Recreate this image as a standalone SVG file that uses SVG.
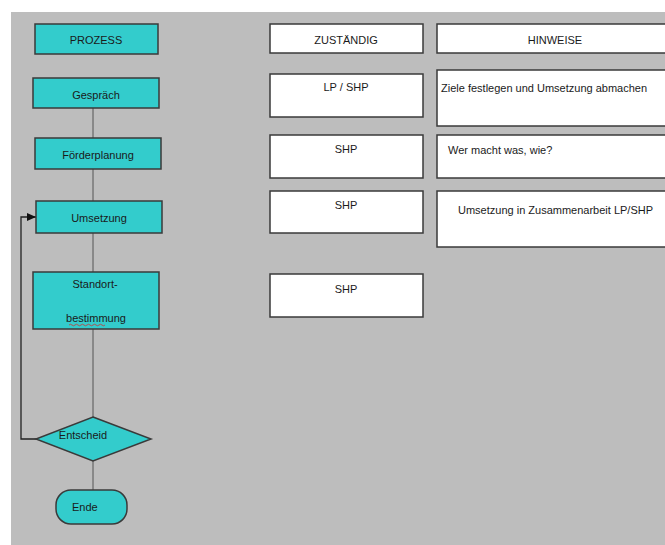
<svg xmlns="http://www.w3.org/2000/svg" width="665" height="545" viewBox="0 0 665 545">
<defs>
<style>
.bg{fill:#bdbdbd}
.proc{fill:#33cccc;stroke:#3a3a3a;stroke-width:1.5}
.box{fill:#ffffff;stroke:#3a3a3a;stroke-width:1.5}
.t{font-family:"Liberation Sans",Arial,sans-serif;font-size:11px;fill:#1a1a1a}
.tc{text-anchor:middle}
.con{stroke:#555555;stroke-width:1;fill:none}
.loop{stroke:#222222;stroke-width:1.3;fill:none}
</style>
<marker id="arr" markerWidth="10" markerHeight="10" refX="9" refY="5" orient="auto" markerUnits="userSpaceOnUse">
<path d="M0,1 L9,5 L0,9 Z" fill="#111111"/>
</marker>
</defs>
<rect x="0" y="0" width="665" height="545" fill="#ffffff"/>
<rect class="bg" x="11" y="12" width="654" height="533"/>

<g id="connectors">
<line class="con" x1="93" y1="108" x2="93" y2="138"/>
<line class="con" x1="93" y1="169" x2="93" y2="201"/>
<line class="con" x1="93" y1="233" x2="93" y2="272"/>
<line class="con" x1="93" y1="329" x2="93" y2="417"/>
<line class="con" x1="93" y1="461" x2="93" y2="490"/>
<polyline class="loop" points="37,439 21,439 21,217 36,217" marker-end="url(#arr)"/>
</g>

<g id="prozess"><rect class="proc" x="35" y="24" width="123" height="30"/><text class="t tc" x="96" y="44" font-size="12">PROZESS</text></g>
<g id="gespraech"><rect class="proc" x="33" y="78" width="126" height="30"/><text class="t tc" x="96" y="99">Gespräch</text></g>
<g id="foerderplanung"><rect class="proc" x="35" y="138" width="126" height="31"/><text class="t tc" x="98" y="159">Förderplanung</text></g>
<g id="umsetzung"><rect class="proc" x="36" y="201" width="126" height="32"/><text class="t tc" x="99" y="222">Umsetzung</text></g>
<g id="standort"><rect class="proc" x="33" y="272" width="126" height="57"/><text class="t tc" x="95" y="288">Standort-</text><text class="t tc" x="96" y="322">bestimmung</text>
<path d="M69,325 q1.5,-1.5 3,0 t3,0 t3,0 t3,0 t3,0 t3,0 t3,0 t3,0 t3,0 t3,0 t3,0 t3,0" stroke="#cc3333" stroke-width="0.8" fill="none"/></g>
<g id="entscheid"><polygon class="proc" points="93,417 151,439 93,461 36,439"/><text class="t tc" x="83" y="439" font-size="9">Entscheid</text></g>
<g id="ende"><rect class="proc" x="56" y="490" width="71" height="34" rx="15" ry="15"/><text class="t" x="72" y="511">Ende</text></g>

<g id="zustaendig"><rect class="box" x="270" y="24" width="153" height="29"/><text class="t tc" x="346" y="44" font-size="12">ZUSTÄNDIG</text></g>
<g id="hinweise"><rect class="box" x="437" y="24" width="236" height="29"/><text class="t tc" x="555" y="44" font-size="12">HINWEISE</text></g>
<g id="z1"><rect class="box" x="270" y="74" width="153" height="43"/><text class="t tc" x="346" y="91">LP / SHP</text></g>
<g id="h1"><rect class="box" x="437" y="70" width="236" height="56"/><text class="t" x="441" y="92">Ziele festlegen und Umsetzung abmachen</text></g>
<g id="z2"><rect class="box" x="270" y="135" width="153" height="43"/><text class="t tc" x="346" y="153">SHP</text></g>
<g id="h2"><rect class="box" x="437" y="135" width="236" height="43"/><text class="t" x="448" y="154">Wer macht was, wie?</text></g>
<g id="z3"><rect class="box" x="270" y="191" width="153" height="42"/><text class="t tc" x="346" y="209">SHP</text></g>
<g id="h3"><rect class="box" x="437" y="191" width="236" height="56"/><text class="t" x="458" y="214">Umsetzung in Zusammenarbeit LP/SHP</text></g>
<g id="z4"><rect class="box" x="270" y="274" width="153" height="43"/><text class="t tc" x="346" y="293">SHP</text></g>
</svg>
